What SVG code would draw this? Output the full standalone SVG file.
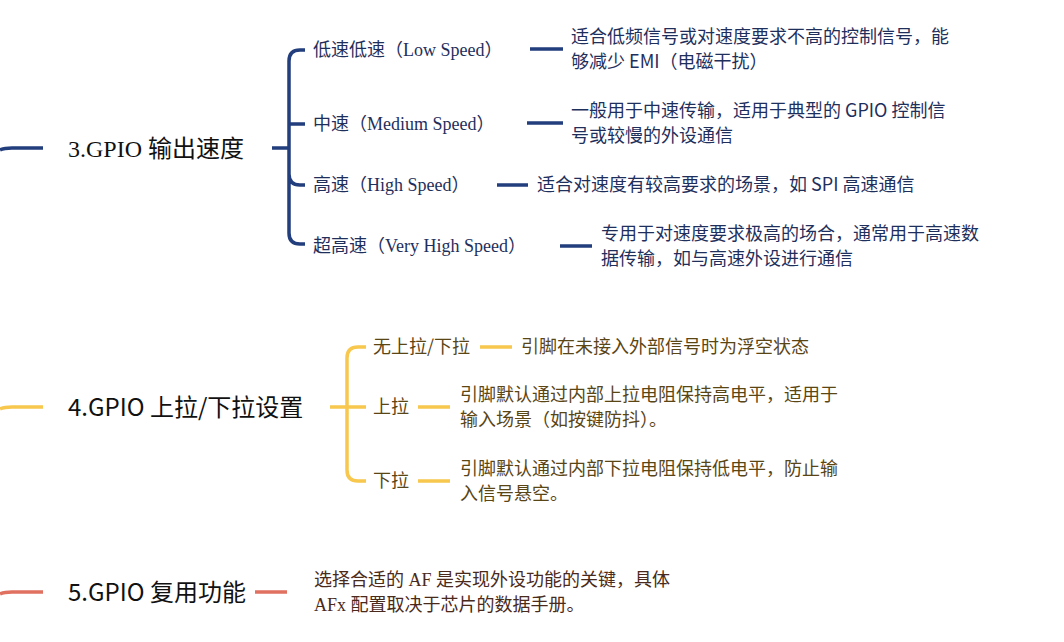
<svg xmlns="http://www.w3.org/2000/svg" width="1064" height="642" viewBox="0 0 1064 642">
<style>
.c{fill:none;stroke-width:3.5;stroke-linecap:butt}
.b{stroke:#233e7c}.y{stroke:#f8c84e}.r{stroke:#e07060}
.t{font-family:"Liberation Serif","Noto Sans CJK SC",serif;font-size:24px;fill:#111}
.ts{font-family:"Noto Sans CJK SC",sans-serif;font-size:24px;fill:#111}
.cb{font-family:"Liberation Serif","Noto Sans CJK SC",serif;font-size:18px;fill:#1f2f5c}
.db{font-family:"Noto Sans CJK SC",sans-serif;font-size:18px;fill:#1f2f5c}
.cy{font-family:"Noto Sans CJK SC",sans-serif;font-size:18px;fill:#5a4515}
.dr{font-family:"Liberation Serif","Noto Sans CJK SC",serif;font-size:18px;fill:#4a2a1a}
</style>
<g id="connectors">
<path class="c b" d="M0,150 Q4,148 12,148 H43"/>
<path class="c b" d="M272,148 H289 M305,50 H300 Q289,50 289,61 V233 Q289,244 300,244 H305 M289,124 Q289,124 305,124 M289,174 Q289,185 300,185 H305"/>
<path class="c b" d="M530,49 H563 M527,123 H563 M497,185 H528 M560,246 H592"/>
<path class="c y" d="M0,409 Q4,407 12,407 H43"/>
<path class="c y" d="M330,407 H366 M366,347 H358 Q347,347 347,358 V470 Q347,481 358,481 H366"/>
<path class="c y" d="M480,347 H512 M418,407 H450 M418,481 H450"/>
<path class="c r" d="M0,594 Q4,592 12,592 H43 M255,592 H287"/>
</g>
<g id="n3"><text class="t" x="68" y="157">3.GPIO 输出速度</text></g>
<g id="n3a"><text class="cb" x="313" y="56">低速低速（Low Speed）</text></g>
<g id="n3b"><text class="cb" x="313" y="130">中速（Medium Speed）</text></g>
<g id="n3c"><text class="cb" x="313" y="191">高速（High Speed）</text></g>
<g id="n3d"><text class="cb" x="313" y="252">超高速（Very High Speed）</text></g>
<g id="d3a"><text class="db" x="571" y="43">适合低频信号或对速度要求不高的控制信号，能</text><text class="db" x="571" y="68">够减少 EMI（电磁干扰）</text></g>
<g id="d3b"><text class="db" x="571" y="117">一般用于中速传输，适用于典型的 GPIO 控制信</text><text class="db" x="571" y="142">号或较慢的外设通信</text></g>
<g id="d3c"><text class="db" x="537" y="191">适合对速度有较高要求的场景，如 SPI 高速通信</text></g>
<g id="d3d"><text class="db" x="601" y="240">专用于对速度要求极高的场合，通常用于高速数</text><text class="db" x="601" y="265">据传输，如与高速外设进行通信</text></g>
<g id="n4"><text class="ts" x="68" y="416">4.GPIO 上拉/下拉设置</text></g>
<g id="n4a"><text class="cy" x="373" y="353">无上拉/下拉</text></g>
<g id="n4b"><text class="cy" x="373" y="413">上拉</text></g>
<g id="n4c"><text class="cy" x="373" y="487">下拉</text></g>
<g id="d4a"><text class="cy" x="521" y="353">引脚在未接入外部信号时为浮空状态</text></g>
<g id="d4b"><text class="cy" x="460" y="401">引脚默认通过内部上拉电阻保持高电平，适用于</text><text class="cy" x="460" y="426">输入场景（如按键防抖）。</text></g>
<g id="d4c"><text class="cy" x="460" y="475">引脚默认通过内部下拉电阻保持低电平，防止输</text><text class="cy" x="460" y="500">入信号悬空。</text></g>
<g id="n5"><text class="ts" x="68" y="601">5.GPIO 复用功能</text></g>
<g id="d5"><text class="dr" x="314" y="586">选择合适的 AF 是实现外设功能的关键，具体</text><text class="dr" x="314" y="611">AFx 配置取决于芯片的数据手册。</text></g>
</svg>
